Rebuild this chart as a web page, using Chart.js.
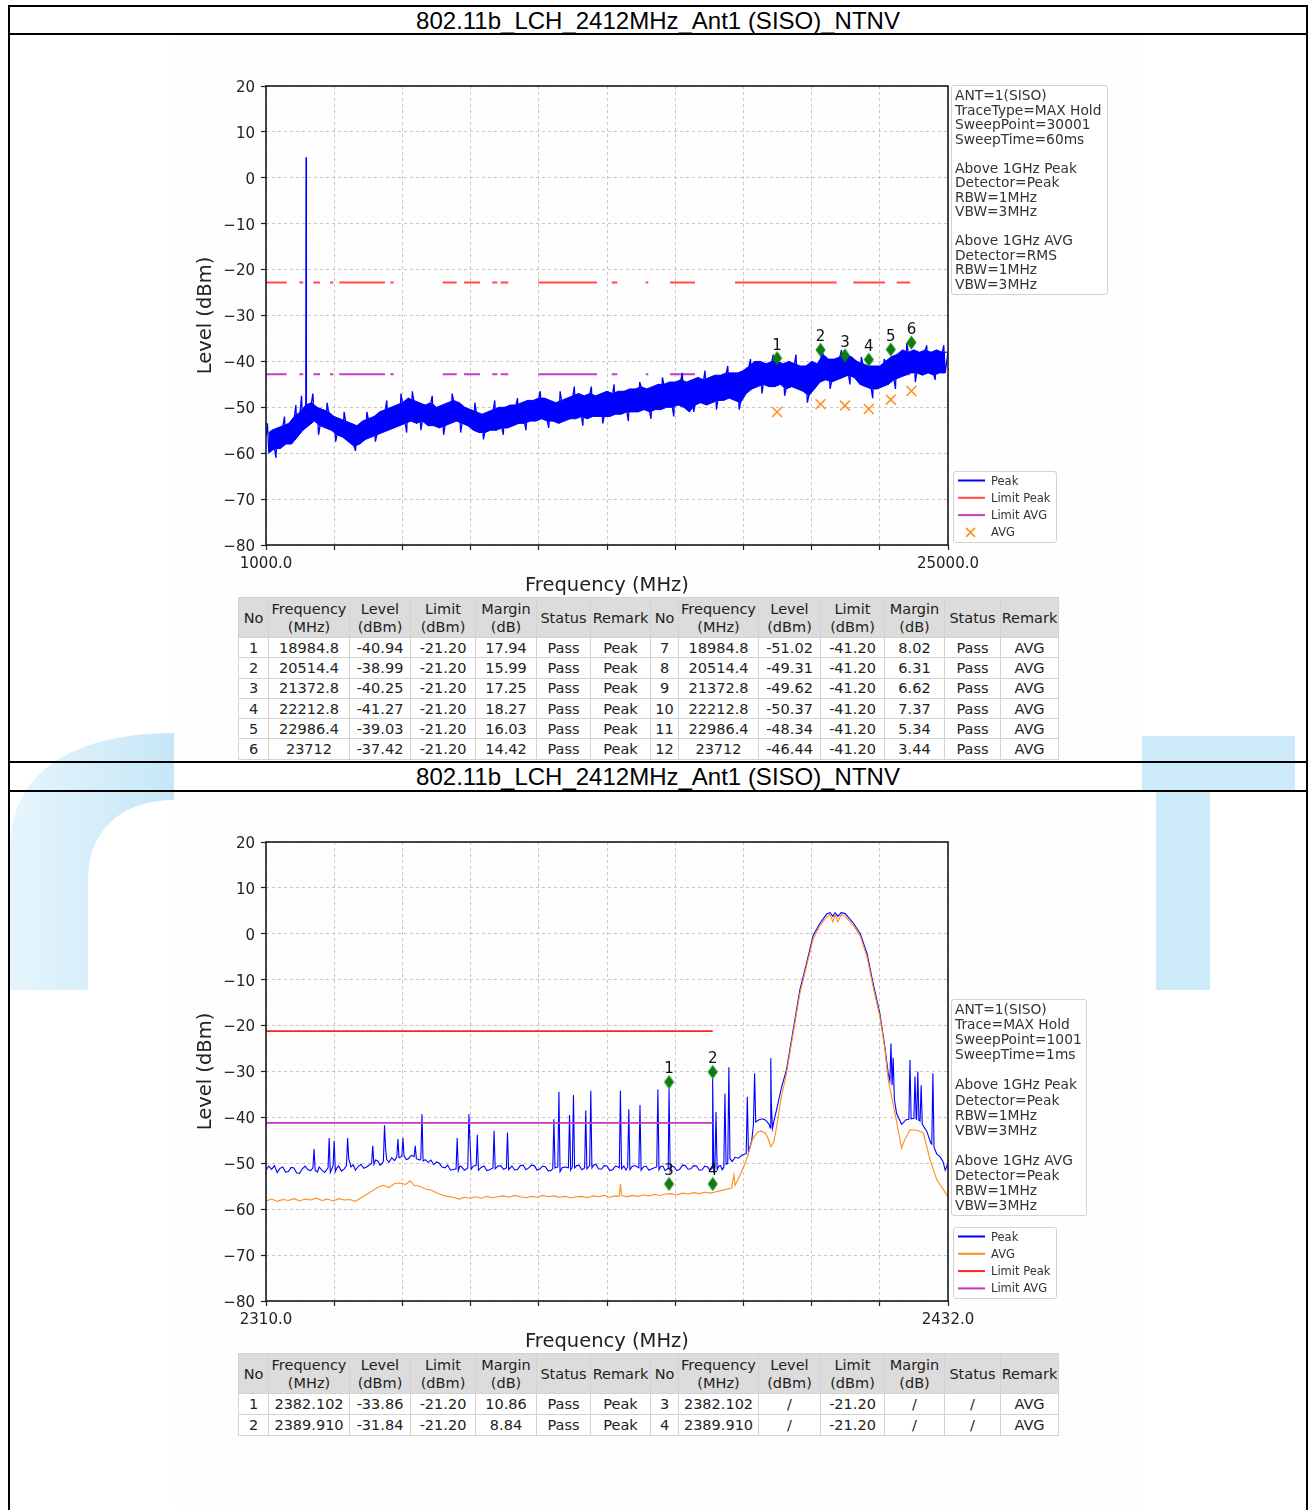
<!DOCTYPE html>
<html>
<head>
<meta charset="utf-8">
<script src="https://cdn.jsdelivr.net/npm/chart.js@4.4.0/dist/chart.umd.min.js"></script>
<style>
  html, body { margin: 0; padding: 0; background: #fff; }
  body { width: 1309px; height: 1510px; position: relative; overflow: hidden; font-family: "DejaVu Sans", sans-serif; }
  .hline { position: absolute; left: 8px; width: 1300px; height: 2px; background: #000; z-index: 5; }
  .vline { position: absolute; top: 5px; width: 2px; height: 1510px; background: #000; z-index: 5; }
  .title { position: absolute; left: 10px; width: 1296px; text-align: center; font: 24px "Liberation Sans", Arial, sans-serif; color: #000; z-index: 4; }
  .shot { position: absolute; left: 174px; width: 968px; background: #fefefe; z-index: 1; }
  canvas { position: absolute; z-index: 2; }
  .note { position: absolute; z-index: 3; box-sizing: border-box; border: 1px solid #d2d2d2; border-radius: 3px; background: rgba(255,255,255,0.9); color: #333; font-size: 13.8px; padding: 2px 3px; white-space: pre; }
  .legend { position: absolute; z-index: 3; box-sizing: border-box; border: 1px solid #d2d2d2; border-radius: 3px; background: rgba(255,255,255,0.9); width: 104px; height: 72px; }
  .legend div { position: absolute; left: 37px; font-size: 11.5px; color: #333; line-height: 14px; }
  .legend svg { position: absolute; left: 0; top: 0; }
  table.res { position: absolute; left: 238px; z-index: 3; border-collapse: collapse; table-layout: fixed; font-size: 14.5px; color: #222; background: #fff; }
  table.res td { border: 1px solid #d3d3d3; text-align: center; padding: 0; white-space: nowrap; overflow: hidden; }
  table.res tr.head td { background: #dcdcdc; line-height: 18px; }
</style>
</head>
<body>

<svg width="1309" height="1510" style="position:absolute;left:0;top:0;z-index:0">
  <defs>
    <linearGradient id="wm" x1="0" y1="0" x2="1" y2="0">
      <stop offset="0" stop-color="#e6f5fc"/>
      <stop offset="1" stop-color="#c6e7f7"/>
    </linearGradient>
  </defs>
  <path d="M174,733 C95,733 10,758 10,850 L10,990 L88,990 L88,880 C88,832 120,800 174,800 Z" fill="url(#wm)"/>
  <path d="M1142,736 L1295,736 L1295,790 L1210,790 L1210,990 L1156,990 L1156,790 L1142,790 Z" fill="#cdeaf8"/>
</svg>

<div class="shot" style="top:35px;height:726px"></div>
<div class="shot" style="top:792px;height:718px"></div>

<div class="hline" style="top:5px"></div>
<div class="hline" style="top:33px"></div>
<div class="hline" style="top:761px"></div>
<div class="hline" style="top:790px"></div>
<div class="vline" style="left:8px"></div>
<div class="vline" style="left:1306px"></div>

<div class="title" style="top:7px;height:26px;line-height:27px">802.11b_LCH_2412MHz_Ant1 (SISO)_NTNV</div>
<div class="title" style="top:763px;height:27px;line-height:28px">802.11b_LCH_2412MHz_Ant1 (SISO)_NTNV</div>

<canvas id="c1" width="968" height="563" style="left:174px;top:35px;width:968px;height:563px"></canvas>
<canvas id="c2" width="968" height="562" style="left:174px;top:792px;width:968px;height:562px"></canvas>

<div class="note" id="note1" style="left:951px;top:85px;width:157px;height:210px;line-height:14.5px"></div>
<div class="note" id="note2" style="left:951px;top:999px;width:136px;height:217px;line-height:15.1px"></div>
<div class="legend" id="leg1" style="left:953px;top:471px"></div>
<div class="legend" id="leg2" style="left:953px;top:1227px"></div>
<table class="res" id="tab1" style="top:597px"></table>
<table class="res" id="tab2" style="top:1353px"></table>

<script>
// ---------- shared axis ticks ----------
const yTicks = [-80, -70, -60, -50, -40, -30, -20, -10, 0, 10, 20];
const p1XTicks = [1000, 3400, 5800, 8200, 10600, 13000, 15400, 17800, 20200, 22600, 25000];
const p2XTicks = [2310, 2322.2, 2334.4, 2346.6, 2358.8, 2371, 2383.2, 2395.4, 2407.6, 2419.8, 2432];

// ---------- panel 1: 1000-25000 MHz sweep (one value every 100 MHz, top/bottom of the noise band in turn) ----------
const p1Start = 1000;
const p1Step = 100;
const p1PeakLevels = [
  -56, -60, -55, -59, -54.5, -59, -54, -58, -53.5, -58,
  -52, -56.5, -51, -55, -49.5, -54, -49, -53, -50, -54,
  -50.5, -54.5, -51, -55, -52, -56, -52.5, -56.5, -53, -57.5,
  -53.5, -58.5, -54, -58, -53, -57, -52.5, -56.5, -52, -56,
  -51, -55.5, -50.5, -55, -50, -54.5, -49.5, -54, -49, -53.5,
  -48, -53, -48.5, -53.5, -49, -53, -49.5, -54, -49, -54,
  -50, -54.5, -49.5, -54, -49, -53.5, -48.5, -53, -49, -53.5,
  -50, -54, -50.5, -55, -51, -55.5, -51.5, -55.5, -51, -55,
  -50.5, -55, -50, -54.5, -50, -54.5, -49.5, -54, -49.5, -53.5,
  -49, -53.5, -48.5, -53, -48.5, -53, -48, -52.5, -48, -53,
  -48.5, -53, -49, -53.5, -48.5, -53, -48, -52.5, -47.5, -52.5,
  -47, -52, -47.5, -52.5, -47, -52, -47.5, -52, -47, -52,
  -46.5, -52, -47, -51.5, -46.5, -51.5, -46.5, -51, -46, -51,
  -46, -51, -45.5, -50.5, -46, -51, -45.5, -50.5, -45, -50.5,
  -45, -50, -44.5, -50, -44.5, -49.5, -44, -50, -44.5, -51,
  -44, -49.5, -43.5, -49, -44, -49.5, -43.5, -49, -43, -48.5,
  -43, -48.5, -42.5, -48, -42.5, -48.5, -42.5, -49, -42, -47,
  -41, -46, -40, -45.5, -40, -45, -40.5, -45.5, -40, -45.5,
  -40, -45, -40.5, -46, -40, -45.5, -40.5, -46, -41, -46.5,
  -41, -47.5, -40, -46, -40.5, -44.5, -38.5, -44, -39.5, -44.5,
  -39.5, -44, -39, -43.5, -38.5, -43, -39, -43.5, -40, -45,
  -40.5, -45.5, -41, -46, -41, -46, -41, -45.5, -40, -45,
  -39, -44, -38.5, -43.5, -37.5, -43, -38, -42.5, -37.5, -42.5,
  -38, -43, -37.5, -42.5, -38, -43, -37.5, -42.5, -38, -42.5,
  -38
];
// single noise hits that stick out of the band
const p1WhiskerFreq = [
  1050, 1350, 1650, 2050, 2250, 2650, 2850, 3150, 3450, 3750, 4150, 4550, 4850, 5250, 5750, 5950,
  6150, 6450, 6850, 7250, 7550, 7850, 8350, 8650, 9050, 9350, 9850, 10150, 10650, 10950, 11350, 11850,
  12150, 12450, 12850, 13250, 13750, 14150, 14550, 14950, 15350, 15650, 16050, 16450, 16850, 17250, 17650, 18050,
  18450, 18850, 19250, 19650, 20050, 20550, 20850, 21250, 21550, 21950, 22350, 22750, 23150, 23550, 23850, 24250,
  24550, 24850
];
const p1WhiskerLevel = [
  -53.5, -61, -52, -49.5, -47.5, -47, -56, -49, -57.5, -51, -59.5, -51, -57.5, -48.5, -47, -55.5,
  -46.5, -55, -47.5, -56, -47, -55.5, -49, -57, -48.5, -56, -48, -55, -46.5, -54.5, -46.5, -45.5,
  -54, -45.5, -53.5, -45, -53, -44.5, -52.5, -43.5, -52, -42.5, -51, -42, -50.5, -41, -50.5, -39.5,
  -47, -38.5, -47.5, -38.5, -49, -37, -46, -37.5, -45, -39, -48, -39.5, -46, -36, -44.5, -36.5,
  -44, -36.5
];
// carrier leaking in at 2.4 GHz
const p1SpikeFreq = [2395, 2410, 2414, 2420, 2430];
const p1SpikeLevel = [-50, 4.5, -48, -35.5, -49];

// limit lines are only drawn over these pieces of the span
const p1LimitStart = [1000, 2172, 2665, 3252, 3579, 5375, 7218, 7968, 8964, 9259, 10582, 13165, 14362, 15217, 17504, 21667, 23194];
const p1LimitEnd   = [1728, 2313, 2900, 3368, 5187, 5491, 7711, 8531, 9140, 9527, 12648, 13362, 14453, 16097, 21083, 22783, 23662];
const p1LimitPeak = -22.8;
const p1LimitAvg = -42.8;

const p1MarkFreq = [18984.8, 20514.4, 21372.8, 22212.8, 22986.4, 23712];
const p1MarkPeak = [-39.3, -37.5, -38.7, -39.6, -37.4, -35.9];
const p1MarkAvg = [-51.02, -49.31, -49.62, -50.37, -48.34, -46.44];
const p1MarkNames = ['1', '2', '3', '4', '5', '6'];

// ---------- panel 2: 2310-2432 MHz band edge ----------
const p2Peak = [
  [2310,-51.5],[2310.5,-50.6],[2311,-51.3],[2311.5,-50.5],[2312,-52],[2312.5,-51.1],[2313,-50.8],[2313.5,-51.9],
  [2314,-51.8],[2314.5,-50.9],[2315,-51],[2315.5,-52.1],[2316,-52.2],[2316.5,-51.2],[2317,-50.6],[2317.5,-51.4],[2318,-51.6],
  [2318.4,-51],[2318.6,-46.9],[2318.8,-51.5],[2319.2,-51.9],[2319.5,-50.8],[2320,-51.5],[2320.5,-52],
  [2321.1,-51],[2321.3,-44.5],[2321.5,-52],[2322.0,-50.5],[2322.2,-45.1],[2322.4,-51.8],
  [2322.7,-51],[2323,-50.6],[2323.5,-51.7],[2324,-51.2],[2324.4,-50.5],[2324.6,-44.5],[2324.8,-49],[2325.2,-50.8],
  [2325.6,-50.3],[2326,-51.5],[2326.5,-50.7],[2327,-50.2],[2327.5,-51.1],[2328,-50.8],[2328.9,-50],[2329.1,-46.2],
  [2329.3,-50.2],[2329.6,-49.3],[2330,-49.5],[2330.4,-50.4],[2330.8,-50],
  [2331.0,-49.5],[2331.2,-41.7],[2331.4,-47],[2331.6,-49.2],[2332,-49.8],[2332.5,-48.8],[2333,-49.4],
  [2333.4,-48.6],[2333.6,-44.7],[2333.8,-48.8],[2334.3,-48.5],[2334.5,-44.5],[2334.7,-48.4],[2335.1,-49.2],[2335.5,-49],
  [2336,-48.3],[2336.5,-48.5],[2336.7,-46.2],[2336.9,-49],[2337.5,-49.3],[2337.7,-49],[2337.9,-39.3],[2338.1,-49.5],
  [2338.5,-49.2],[2339,-49.8],[2339.5,-49.3],[2340,-50.3],[2340.5,-49.7],[2341,-50],[2341.5,-50.8],[2342,-51],[2342.5,-50.4],[2343,-51.5],
  [2344.0,-51.2],[2344.2,-44.5],[2344.4,-51.6],[2344.7,-50.6],[2345,-50.8],[2345.5,-51.5],
  [2346.1,-51],[2346.3,-39.3],[2346.5,-45.5],[2346.7,-51.3],[2347.1,-50.6],[2347.6,-50.5],[2347.8,-43.8],[2348.0,-51.5],
  [2348.5,-50.9],[2349,-50.6],[2349.5,-51.6],[2350,-51.4],[2350.6,-51],[2350.8,-42.9],[2351.0,-51.2],[2351.5,-50.6],[2352,-50.5],
  [2352.5,-51.3],[2353.0,-51],[2353.2,-43.3],[2353.4,-51.4],
  [2354,-50.6],[2354.5,-51.5],[2355,-51.3],[2355.5,-50.5],[2356,-50.4],[2356.5,-51.4],[2357,-51],[2357.5,-50.4],
  [2358,-50.5],[2358.5,-51.5],[2359,-51.2],[2359.5,-50.6],[2360,-50.8],[2360.5,-51.7],[2361,-51.5],
  [2361.3,-51.2],[2361.5,-40.4],[2361.7,-51],[2362.2,-50.8],[2362.4,-34.4],[2362.6,-51.8],[2363,-50.9],[2363.5,-50.8],
  [2364.1,-51],[2364.3,-39.5],[2364.5,-51.5],[2364.8,-50.8],[2365.0,-35.1],[2365.2,-51],[2365.6,-50.5],[2366,-50.4],[2366.5,-51.4],
  [2367.0,-51],[2367.2,-38.5],[2367.4,-51.2],[2367.9,-50.5],[2368.1,-34.2],[2368.3,-51],
  [2368.6,-50.4],[2369,-50.2],[2369.5,-51.2],[2370,-51.3],[2370.5,-50.5],[2371,-50.6],[2371.5,-51.6],[2372,-51.4],[2372.5,-50.6],[2373,-50.8],
  [2373.2,-51],[2373.4,-34.2],[2373.6,-51.2],[2374,-50.6],[2374.4,-51.5],[2374.7,-50.8],[2374.9,-38.2],[2375.1,-51.4],[2375.5,-50.7],[2376,-50.5],
  [2376.7,-51],[2376.9,-37.3],[2377.1,-51.5],[2377.5,-50.8],[2378,-50.6],[2378.5,-51.5],[2379,-51.2],
  [2379.9,-50.8],[2380.1,-33.9],[2380.3,-51.4],[2380.6,-50.7],[2381,-50.6],[2381.4,-51.6],[2381.8,-51.2],
  [2381.95,-51],[2382.1,-33.7],[2382.3,-51.6],
  [2382.6,-50.6],[2383,-50.8],[2383.5,-51.6],[2384,-51.3],[2384.5,-50.4],[2385,-50.5],[2385.5,-51.3],[2386,-51.2],
  [2386.5,-50.5],[2387,-50.6],[2387.5,-51.5],[2388,-51.4],[2388.5,-50.6],[2389,-50.8],[2389.4,-51.5],[2389.7,-51.2],
  [2389.8,-51],[2389.9,-31.5],[2390.1,-51.6],[2390.3,-51],[2390.5,-38.8],[2390.7,-51.4],
  [2391,-50.6],[2391.3,-50.5],[2391.6,-51.4],[2391.8,-51],[2391.9,-50.5],[2392.1,-34.8],[2392.3,-50.2],[2392.6,-50],[2392.8,-29.1],[2393.0,-49],
  [2393.4,-49.6],[2393.9,-48.7],[2394.5,-48.9],[2395.2,-48.2],[2395.9,-47.9],[2396.1,-35.5],[2396.3,-47.6],[2396.9,-45],
  [2397.2,-41.5],[2397.4,-30.4],[2397.6,-41],[2398.2,-40.5],[2398.8,-40.3],[2399.4,-40.6],[2400.0,-41.5],
  [2400.2,-42.3],[2400.3,-27.1],[2400.4,-37],[2400.6,-42.4],[2401.0,-40],[2401.3,-38.5],
  [2402.25,-33.3],[2403.1,-29.7],[2404.3,-21],[2405.5,-12.2],[2406.7,-6.4],[2407.9,-0.3],[2409.1,2.3],
  [2410.3,4.3],[2410.9,4.6],[2411.4,3.8],[2411.8,4.6],[2412.3,3.8],[2412.9,4.6],[2413.6,4.4],
  [2415.1,2.3],[2416.3,0],[2417.5,-4.2],[2418.6,-10.8],[2419.8,-17.3],[2420.7,-24.6],[2421.3,-30.4],
  [2421.6,-32],[2421.8,-23.9],[2422.0,-33],[2422.2,-27],[2422.4,-36],
  [2422.8,-39.1],[2423.7,-41.5],[2424.5,-40.5],
  [2425.0,-40.4],[2425.2,-27.5],[2425.4,-40.3],[2425.9,-40.2],[2426.1,-31.1],[2426.3,-40.3],
  [2426.4,-40.4],[2426.6,-30],[2426.8,-40.6],[2427.0,-40.8],[2427.2,-33],[2427.4,-41.5],
  [2428.2,-43],[2428.9,-45.5],[2429.1,-45.8],[2429.3,-30.4],[2429.5,-46.5],
  [2430,-48],[2430.6,-48.6],[2431.1,-49.6],[2431.5,-51.5],[2432,-50]
];
const p2Avg = [
  [2310,-58.2],[2311,-57.8],[2312,-58.3],[2313,-57.9],[2314,-58.1],[2315,-57.7],[2316,-58.2],[2317,-57.8],
  [2318,-58],[2319,-57.6],[2320,-58.1],[2321,-57.8],[2322,-58.2],[2323,-57.7],[2324,-58],[2325,-57.9],
  [2326,-58.3],[2327,-57.5],[2328,-56.8],[2329,-56],[2330,-55.2],[2331,-54.8],[2332,-55.3],[2333,-54.4],
  [2334,-54.3],[2335,-54.6],[2335.8,-53.8],[2336.5,-54.8],[2337.5,-55],[2338.5,-55.6],[2339.5,-55.8],
  [2340.5,-56.4],[2341.5,-56.9],[2342.5,-57.2],[2343.5,-57.4],[2344.5,-57.8],[2345.5,-57.4],[2346.5,-57.6],
  [2347.5,-57.3],[2348.5,-57.6],[2349.5,-57.2],[2350.5,-57.5],[2351.5,-57.3],[2352.5,-57.1],[2353.5,-57.4],
  [2354.5,-57],[2355.5,-57.3],[2356.5,-57.5],[2357.5,-57.2],[2358.5,-57.4],[2359.5,-57],[2360.5,-57.3],
  [2361.5,-57.1],[2362.5,-57.4],[2363.5,-57.2],[2364.5,-57.5],[2365.5,-57.3],[2366.5,-57.2],[2367.5,-57.5],
  [2368.5,-57.1],[2369.5,-57.3],[2370.5,-57],[2371.5,-57.4],[2372.5,-57.1],[2373.2,-57.2],[2373.4,-54.5],
  [2373.6,-57],[2374.5,-57.3],[2375.5,-57],[2376.5,-57.2],[2377.5,-56.9],[2378.5,-57.1],[2379.5,-56.8],
  [2380.5,-57],[2381.5,-56.7],[2382.5,-56.6],[2383.5,-56.9],[2384.5,-56.5],[2385.5,-56.7],[2386.5,-56.4],
  [2387.5,-56.6],[2388.5,-56.3],[2389.5,-56.5],[2390.5,-56.2],[2391.5,-55.9],[2392.5,-55.6],[2393.3,-55.4],
  [2393.7,-52.5],[2393.9,-54.8],[2394.8,-52.6],[2395.7,-50],[2396.1,-48.6],[2397,-44.9],[2397.9,-43.2],
  [2398.6,-43],[2399.3,-43.4],[2399.8,-44.5],[2400.3,-46.4],[2400.8,-45.5],[2401.2,-43],[2402.2,-35.5],
  [2403.1,-30.4],[2404.3,-21.7],[2405.5,-13],[2406.7,-7],[2407.9,-1],[2409.1,1.8],[2410.3,3.6],[2410.9,4.2],
  [2411.4,2.6],[2411.8,4.2],[2412.3,2.6],[2412.9,4.2],[2413.6,3.8],[2415.1,1.8],[2416.3,-0.5],[2417.5,-5],
  [2418.6,-11.5],[2419.8,-18],[2420.7,-25],[2421.3,-31.7],[2422.5,-39],[2423.7,-46.7],[2424.2,-45],
  [2425.2,-42.7],[2426.5,-42.8],[2427.6,-43.4],[2428.8,-49.3],[2430,-53.6],[2431.2,-55.8],[2432,-57.3]
];
const p2LimitFrom = 2310;
const p2LimitTo = 2389.91;
const p2LimitPeak = -21.2;
const p2LimitAvg = -41.2;
const p2MarkFreq = [2382.102, 2389.910, 2382.102, 2389.910];
const p2MarkLevel = [-32.3, -30.1, -54.5, -54.5];
const p2MarkNames = ['1', '2', '3', '4'];

// ---------- side notes, legends, result tables ----------
const note1Lines = ['ANT=1(SISO)', 'TraceType=MAX Hold', 'SweepPoint=30001', 'SweepTime=60ms', '',
  'Above 1GHz Peak', 'Detector=Peak', 'RBW=1MHz', 'VBW=3MHz', '',
  'Above 1GHz AVG', 'Detector=RMS', 'RBW=1MHz', 'VBW=3MHz'];
const note2Lines = ['ANT=1(SISO)', 'Trace=MAX Hold', 'SweepPoint=1001', 'SweepTime=1ms', '',
  'Above 1GHz Peak', 'Detector=Peak', 'RBW=1MHz', 'VBW=3MHz', '',
  'Above 1GHz AVG', 'Detector=Peak', 'RBW=1MHz', 'VBW=3MHz'];

const legend1Names = ['Peak', 'Limit Peak', 'Limit AVG', 'AVG'];
const legend2Names = ['Peak', 'AVG', 'Limit Peak', 'Limit AVG'];

const tableHead = ['No', 'Frequency\n(MHz)', 'Level\n(dBm)', 'Limit\n(dBm)', 'Margin\n(dB)', 'Status', 'Remark',
                   'No', 'Frequency\n(MHz)', 'Level\n(dBm)', 'Limit\n(dBm)', 'Margin\n(dB)', 'Status', 'Remark'];
const tableColW = [30, 81, 61, 65, 61, 54, 60, 28, 80, 62, 64, 60, 56, 58];
const table1Rows = [
  ['1', '18984.8', '-40.94', '-21.20', '17.94', 'Pass', 'Peak', '7', '18984.8', '-51.02', '-41.20', '8.02', 'Pass', 'AVG'],
  ['2', '20514.4', '-38.99', '-21.20', '15.99', 'Pass', 'Peak', '8', '20514.4', '-49.31', '-41.20', '6.31', 'Pass', 'AVG'],
  ['3', '21372.8', '-40.25', '-21.20', '17.25', 'Pass', 'Peak', '9', '21372.8', '-49.62', '-41.20', '6.62', 'Pass', 'AVG'],
  ['4', '22212.8', '-41.27', '-21.20', '18.27', 'Pass', 'Peak', '10', '22212.8', '-50.37', '-41.20', '7.37', 'Pass', 'AVG'],
  ['5', '22986.4', '-39.03', '-21.20', '16.03', 'Pass', 'Peak', '11', '22986.4', '-48.34', '-41.20', '5.34', 'Pass', 'AVG'],
  ['6', '23712', '-37.42', '-21.20', '14.42', 'Pass', 'Peak', '12', '23712', '-46.44', '-41.20', '3.44', 'Pass', 'AVG']
];
const table2Rows = [
  ['1', '2382.102', '-33.86', '-21.20', '10.86', 'Pass', 'Peak', '3', '2382.102', '/', '-21.20', '/', '/', 'AVG'],
  ['2', '2389.910', '-31.84', '-21.20', '8.84', 'Pass', 'Peak', '4', '2389.910', '/', '-21.20', '/', '/', 'AVG']
];

// colours
const BLUE = '#0000ff';
const ORANGE = '#ff8c1a';
const RED1 = '#ff4b4b';
const MAG1 = '#c63cc6';
const RED2 = '#ff2020';
const MAG2 = '#cc33cc';
const GREEN = '#0d7d0d';

// -------------------------
// Helpers
// -------------------------
function limitData(starts, ends, level) {
  const d = [];
  starts.forEach((s, i) => {
    if (i > 0) d.push({ x: (ends[i - 1] + s) / 2, y: null });
    d.push({ x: s, y: level }, { x: ends[i], y: level });
  });
  return d;
}

function thinDiamond() {
  const c = document.createElement('canvas');
  c.width = 11; c.height = 15;
  const g = c.getContext('2d');
  g.fillStyle = GREEN;
  g.beginPath();
  g.moveTo(5.5, 0.5); g.lineTo(10.5, 7.5); g.lineTo(5.5, 14.5); g.lineTo(0.5, 7.5);
  g.closePath(); g.fill();
  return c;
}
const diamond = thinDiamond();

// frame round the plot area + the little numbers over the markers
const framePlugin = {
  id: 'frame',
  afterDatasetsDraw(chart) {
    const { ctx, chartArea: a } = chart;
    chart.data.datasets.forEach((ds, i) => {
      if (!ds.numbers) return;
      const meta = chart.getDatasetMeta(i);
      ctx.save();
      ctx.font = '15px "DejaVu Sans"';
      ctx.fillStyle = '#111';
      ctx.textAlign = 'center';
      ctx.textBaseline = 'bottom';
      meta.data.forEach((pt, j) => ctx.fillText(ds.numbers[j], pt.x, pt.y - 5));
      ctx.restore();
    });
    ctx.save();
    ctx.strokeStyle = '#1a1a1a';
    ctx.lineWidth = 1.6;
    ctx.strokeRect(a.left, a.top, a.right - a.left, a.bottom - a.top);
    ctx.restore();
  }
};

function axisFont(size) { return { family: 'DejaVu Sans', size: size }; }

function makeOptions(xTicks, padTop) {
  const grid = { color: '#b9b9b9', lineWidth: 0.8, tickLength: 5, tickColor: '#222', tickWidth: 1.2 };
  return {
    responsive: false,
    animation: false,
    devicePixelRatio: 1,
    layout: { padding: { top: padTop, right: 194, left: 0, bottom: 0 } },
    plugins: { legend: { display: false }, tooltip: { enabled: false } },
    scales: {
      x: {
        type: 'linear',
        min: xTicks[0],
        max: xTicks[xTicks.length - 1],
        afterBuildTicks: s => { s.ticks = xTicks.map(v => ({ value: v })); },
        afterFit: s => { s.height = 53; },
        ticks: {
          autoSkip: false, maxRotation: 0, padding: 5, color: '#222', font: axisFont(15),
          callback: (v, i, t) => (i === 0 || i === t.length - 1) ? Number(v).toFixed(1) : ''
        },
        grid: grid,
        border: { display: false, dash: [3, 3] },
        title: { display: true, text: 'Frequency (MHz)', color: '#222', font: axisFont(19.5), padding: { top: 0, bottom: 0 } }
      },
      y: {
        min: -80,
        max: 20,
        afterBuildTicks: s => { s.ticks = yTicks.map(v => ({ value: v })); },
        afterFit: s => { s.width = 92; },
        ticks: {
          padding: 6, labelOffset: 2, color: '#222', font: axisFont(15),
          callback: v => v < 0 ? '\u2212' + Math.abs(v) : String(v)
        },
        grid: grid,
        border: { display: false, dash: [3, 3] },
        title: { display: true, text: 'Level (dBm)', color: '#222', font: axisFont(19.5), padding: { top: 20, bottom: 0 } }
      }
    }
  };
}

// -------------------------
// Panel 1
// -------------------------
const p1Grid = p1PeakLevels.map((y, i) => ({ x: p1Start + i * p1Step, y: y }));
const p1PeakData = p1Grid
  .concat(p1SpikeFreq.map((x, i) => ({ x: x, y: p1SpikeLevel[i] })))
  .concat(p1WhiskerFreq.map((x, i) => ({ x: x, y: p1WhiskerLevel[i] })))
  .sort((a, b) => a.x - b.x);
// the same readings split into the upper and lower edge of the noise band
const p1BandTop = p1Grid.filter((p, i) => i % 2 === 0);
const p1BandLow = p1Grid.filter((p, i) => i % 2 === 1);

new Chart(document.getElementById('c1'), {
  type: 'line',
  data: {
    datasets: [
      { label: 'markers', data: p1MarkFreq.map((x, i) => ({ x: x, y: p1MarkPeak[i] })), numbers: p1MarkNames,
        showLine: false, pointStyle: diamond, pointRadius: 7, order: 0 },
      { label: 'AVG', data: p1MarkFreq.map((x, i) => ({ x: x, y: p1MarkAvg[i] })), showLine: false,
        pointStyle: 'crossRot', pointRadius: 7, pointBorderColor: ORANGE, pointBorderWidth: 1.5, order: 1 },
      { label: 'Peak', data: p1PeakData, borderColor: BLUE, borderWidth: 1.3, pointRadius: 0,
        borderJoinStyle: 'bevel', order: 2 },
      { label: 'band top', data: p1BandTop, borderColor: BLUE, borderWidth: 1, pointRadius: 0, order: 3 },
      { label: 'band low', data: p1BandLow, borderColor: BLUE, borderWidth: 1, pointRadius: 0,
        fill: '-1', backgroundColor: BLUE, order: 4 },
      { label: 'Limit Peak', data: limitData(p1LimitStart, p1LimitEnd, p1LimitPeak), borderColor: RED1,
        borderWidth: 2, pointRadius: 0, spanGaps: false, order: 5 },
      { label: 'Limit AVG', data: limitData(p1LimitStart, p1LimitEnd, p1LimitAvg), borderColor: MAG1,
        borderWidth: 2, pointRadius: 0, spanGaps: false, order: 6 }
    ]
  },
  options: makeOptions(p1XTicks, 51),
  plugins: [framePlugin]
});

// -------------------------
// Panel 2
// -------------------------
new Chart(document.getElementById('c2'), {
  type: 'line',
  data: {
    datasets: [
      { label: 'markers', data: p2MarkFreq.map((x, i) => ({ x: x, y: p2MarkLevel[i] })), numbers: p2MarkNames,
        showLine: false, pointStyle: diamond, pointRadius: 7, order: 0 },
      { label: 'Limit Peak', data: [{ x: p2LimitFrom, y: p2LimitPeak }, { x: p2LimitTo, y: p2LimitPeak }],
        borderColor: RED2, borderWidth: 1.6, pointRadius: 0, order: 1 },
      { label: 'Limit AVG', data: [{ x: p2LimitFrom, y: p2LimitAvg }, { x: p2LimitTo, y: p2LimitAvg }],
        borderColor: MAG2, borderWidth: 1.6, pointRadius: 0, order: 2 },
      { label: 'AVG', data: p2Avg.map(p => ({ x: p[0], y: p[1] })), borderColor: ORANGE, borderWidth: 1.1,
        pointRadius: 0, order: 3 },
      { label: 'Peak', data: p2Peak.map(p => ({ x: p[0], y: p[1] })), borderColor: BLUE, borderWidth: 1.1,
        pointRadius: 0, order: 4 }
    ]
  },
  options: makeOptions(p2XTicks, 50),
  plugins: [framePlugin]
});

// -------------------------
// Notes, legends, tables
// -------------------------
document.getElementById('note1').textContent = note1Lines.join('\n');
document.getElementById('note2').textContent = note2Lines.join('\n');

function buildLegend(id, names, kinds, colors) {
  const el = document.getElementById(id);
  let svg = '<svg width="104" height="72">';
  names.forEach((n, i) => {
    const cy = 8.5 + i * 17.3;
    if (kinds[i] === 'x') {
      svg += `<path d="M12,${cy - 4.5} L21,${cy + 4.5} M12,${cy + 4.5} L21,${cy - 4.5}" stroke="${colors[i]}" stroke-width="1.5"/>`;
    } else {
      svg += `<line x1="4" x2="31" y1="${cy}" y2="${cy}" stroke="${colors[i]}" stroke-width="2"/>`;
    }
    const d = document.createElement('div');
    d.textContent = n;
    d.style.top = (cy - 7) + 'px';
    el.appendChild(d);
  });
  el.insertAdjacentHTML('afterbegin', svg + '</svg>');
}
buildLegend('leg1', legend1Names, ['line', 'line', 'line', 'x'], [BLUE, RED1, MAG1, ORANGE]);
buildLegend('leg2', legend2Names, ['line', 'line', 'line', 'line'], [BLUE, ORANGE, RED2, MAG2]);

function buildTable(id, rows, rowH) {
  const t = document.getElementById(id);
  let html = '<colgroup>' + tableColW.map(w => `<col style="width:${w}px">`).join('') + '</colgroup>';
  html += '<tr class="head" style="height:40px">' + tableHead.map(h => `<td>${h.replace('\n', '<br>')}</td>`).join('') + '</tr>';
  rows.forEach(r => {
    html += `<tr style="height:${rowH}px">` + r.map(c => `<td>${c}</td>`).join('') + '</tr>';
  });
  t.innerHTML = html;
  t.style.width = tableColW.reduce((a, b) => a + b, 0) + 'px';
}
buildTable('tab1', table1Rows, 20.3);
buildTable('tab2', table2Rows, 21);
</script>
</body>
</html>
